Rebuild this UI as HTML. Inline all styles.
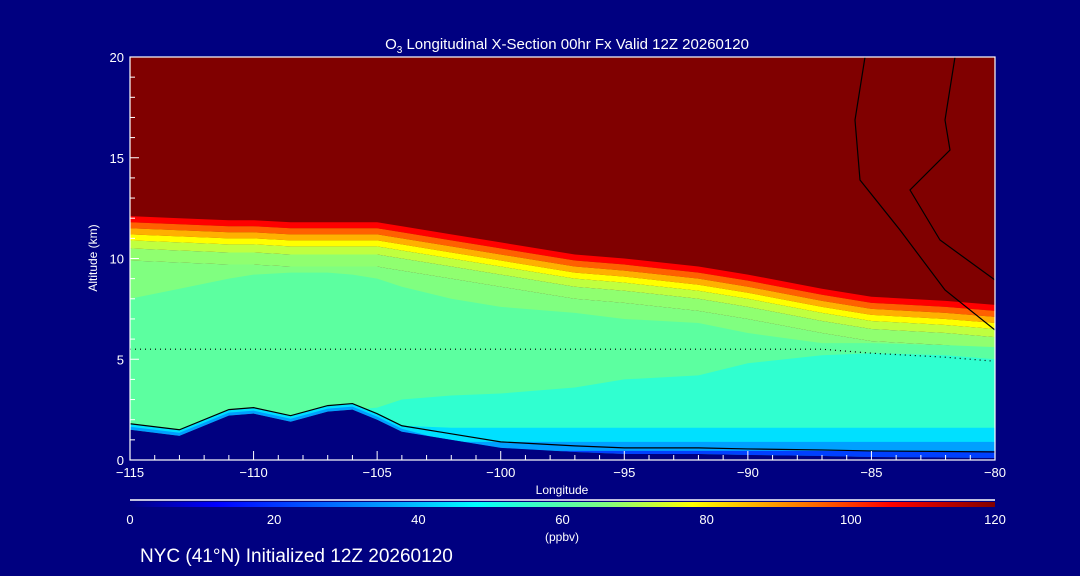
<!DOCTYPE html>
<html><head><meta charset="utf-8"><style>
body{margin:0;background:#000080;width:1080px;height:576px;overflow:hidden}
svg{display:block;font-family:"Liberation Sans",sans-serif}
</style></head><body>
<svg id="chart" width="1080" height="576">
<defs>
<linearGradient id="cb" x1="0" x2="1" y1="0" y2="0">
<stop offset="0" stop-color="#000080"/><stop offset="0.1" stop-color="#0000ff"/>
<stop offset="0.3" stop-color="#00a0ff"/><stop offset="0.4" stop-color="#00ffff"/>
<stop offset="0.55" stop-color="#80ff80"/><stop offset="0.65" stop-color="#ffff00"/>
<stop offset="0.8" stop-color="#ff6000"/><stop offset="0.88" stop-color="#ff0000"/>
<stop offset="1" stop-color="#800000"/></linearGradient>
<clipPath id="pc"><rect x="130" y="57" width="865" height="403"/></clipPath>
</defs>
<g id="plot" clip-path="url(#pc)"></g>
<rect x="130" y="57" width="865" height="403" fill="none" stroke="#fff" stroke-width="1.2"/>
<g id="axes"></g>
<text x="567" y="49" fill="#fff" font-size="15" text-anchor="middle">O<tspan font-size="10" dy="4">3</tspan><tspan dy="-4"> Longitudinal X-Section 00hr  Fx Valid 12Z 20260120</tspan></text>
<text x="562" y="494" fill="#fff" font-size="12" text-anchor="middle">Longitude</text>
<text transform="translate(97,258) rotate(-90)" fill="#fff" font-size="12" text-anchor="middle">Altitude (km)</text>
<line x1="130" y1="500" x2="995" y2="500" stroke="#fff" stroke-width="1.5"/>
<rect x="130" y="502" width="865" height="5" fill="url(#cb)"/>
<text x="562" y="541" fill="#fff" font-size="12" text-anchor="middle">(ppbv)</text>
<text x="140" y="562" fill="#fff" font-size="19">NYC (41°N) Initialized 12Z 20260120</text>
</svg>
<script>
const lons=[-115,-113,-111,-110,-108.5,-107,-106,-105,-104,-102,-100,-97,-95,-92,-90,-87,-85,-82,-80];
const tropo=[12.1,12.0,11.9,11.9,11.8,11.8,11.8,11.8,11.6,11.2,10.8,10.2,10.0,9.6,9.2,8.5,8.1,7.9,7.7];
const greenTop=[8.0,8.5,9.0,9.2,9.3,9.3,9.2,9.0,8.6,8.0,7.6,7.3,7.0,6.8,6.3,5.8,5.8,5.7,5.6];
const cyanTop=[1.5,1.2,2.2,2.3,1.9,2.4,2.5,2.6,3.0,3.2,3.3,3.6,4.0,4.2,4.8,5.2,5.3,5.2,5.0];
const terrain=[1.5,1.2,2.2,2.3,1.9,2.4,2.5,2.0,1.4,1.0,0.6,0.4,0.3,0.3,0.25,0.2,0.15,0.12,0.1];
const cbTicks=[0,20,40,60,80,100,120];
const xTicks=[-115,-110,-105,-100,-95,-90,-85,-80];
const yTicks=[0,5,10,15,20];
const NS='http://www.w3.org/2000/svg';
const X=v=>130+(v+115)/35*865, Y=a=>460-a*20.15;
function el(t,a,p){const e=document.createElementNS(NS,t);for(const k in a)e.setAttribute(k,a[k]);p.appendChild(e);return e;}
const plot=document.getElementById('plot'), axes=document.getElementById('axes');
function band(topFn,botFn,color,name){
 let pts=lons.map((l,i)=>X(l)+','+Y(topFn(i)));
 for(let i=lons.length-1;i>=0;i--)pts.push(X(lons[i])+','+Y(botFn(i)));
 const p=el('polygon',{points:pts.join(' '),fill:color},plot);
 
 
}
const r=el('rect',{x:130,y:57,width:865,height:403,fill:'#800000'},plot);


const layers=[[0,0.3,'#ff0000'],[0.3,0.6,'#ff6000'],[0.6,0.9,'#ffb000'],[0.9,1.2,'#ffff00'],[1.2,1.6,'#c0ff40'],[1.6,2.2,'#90ff70']];
layers.forEach((L,k)=>band(i=>tropo[i]-L[0],i=>tropo[i]-L[1],L[2],'ozone-band-'+k));
band(i=>tropo[i]-2.2,i=>terrain[i],'#80ff80','ozone-band-mid');
band(i=>greenTop[i],i=>terrain[i],'#5cffa0','ozone-band-green');
band(i=>cyanTop[i],i=>terrain[i],'#30ffd0','ozone-band-cyan');
band(i=>i<9?terrain[i]+0.3:1.6,i=>terrain[i],'#00e0ff','ozone-band-sfc1');
band(i=>i<9?terrain[i]+0.15:0.9,i=>terrain[i],'#00a0ff','ozone-band-sfc2');
band(i=>i<9?terrain[i]:0.45,i=>terrain[i],'#0040ff','ozone-band-sfc3');
band(i=>terrain[i],i=>-1,'#000080','terrain');
const c1=el('polyline',{points:lons.map((l,i)=>X(l)+','+Y(terrain[i]+0.3)).join(' '),fill:'none',stroke:'#000','stroke-width':1.2},plot);


const c2=el('polyline',{points:lons.map((l,i)=>X(l)+','+Y(Math.min(tropo[i]-2.8,5.5))).join(' '),fill:'none',stroke:'#000','stroke-width':1.2,'stroke-dasharray':'1 4'},plot);


const c3=el('polyline',{points:'865,57 855,120 860,180 900,230 945,290 995,330',fill:'none',stroke:'#000','stroke-width':1.2},plot);


const c4=el('polyline',{points:'955,57 945,120 950,150 910,190 940,240 995,280',fill:'none',stroke:'#000','stroke-width':1.2},plot);


xTicks.forEach(v=>{const l=el('line',{x1:X(v),x2:X(v),y1:460,y2:451,stroke:'#fff'},axes);


const t=el('text',{x:X(v),y:477,fill:'#fff','font-size':13,'text-anchor':'middle'},axes);t.textContent=(v<0?'\u2212'+(-v):v);

});
for(let v=-114;v<-80;v++){if(v%5){const l=el('line',{x1:X(v),x2:X(v),y1:460,y2:455,stroke:'#fff'},axes);

}}
yTicks.forEach(v=>{const l=el('line',{x1:130,x2:139,y1:Y(v),y2:Y(v),stroke:'#fff'},axes);


const t=el('text',{x:124,y:Y(v)+5,fill:'#fff','font-size':13,'text-anchor':'end'},axes);t.textContent=v;

});
for(let v=1;v<20;v++){if(v%5){const l=el('line',{x1:130,x2:135,y1:Y(v),y2:Y(v),stroke:'#fff'},axes);

}}
cbTicks.forEach(v=>{const t=el('text',{x:130+v/120*865,y:524,fill:'#fff','font-size':13,'text-anchor':'middle'},axes);t.textContent=v;

});
</script>
</body></html>
